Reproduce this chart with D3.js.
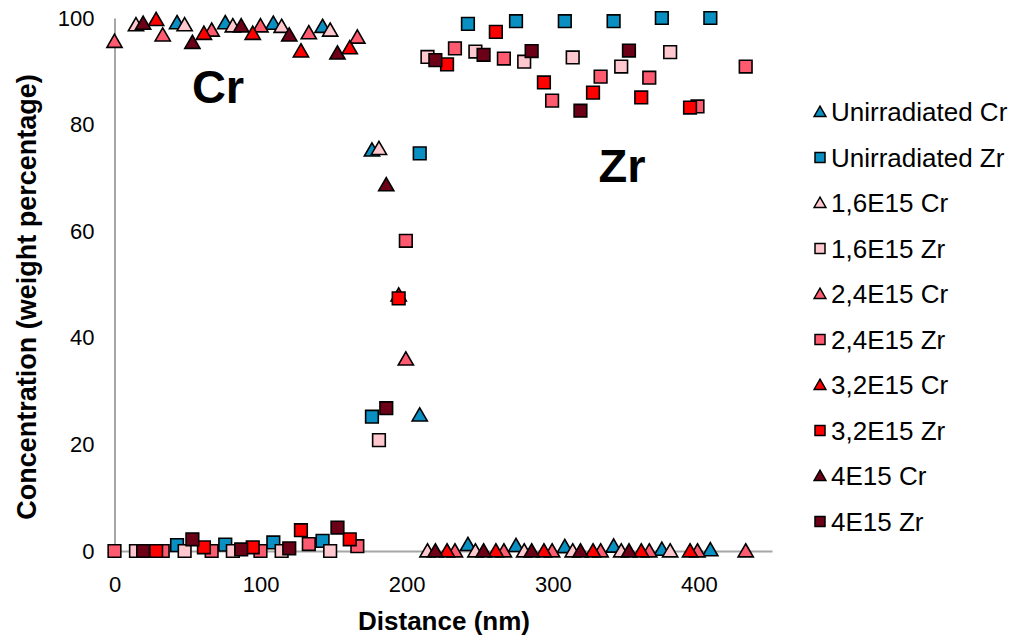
<!DOCTYPE html>
<html><head><meta charset="utf-8">
<script src="https://cdn.jsdelivr.net/npm/d3@7"></script>
<style>body{margin:0;background:#fff}svg{display:block}text{font-family:"Liberation Sans",Arial,sans-serif}</style>
</head><body><svg id="c" width="1012" height="636"></svg>
<script>
// Distances (nm) per sample
const xUnirr = [42.8,75.8,108.7,142.4,176.2,208.9,241.9,274.8,308.2,341.6,374.6,407.8];
const crUnirr = [99.1,99.1,99.0,98.4,75.2,25.5,1.2,1.0,0.8,0.9,0.3,0.2];
const zrUnirr = [1.1,1.2,1.6,1.9,25.2,74.6,98.9,99.4,99.4,99.4,100,100];

const x16 = [14.7,48,81,114.4,147.6,181,214.2,247,280.4,313.6,346.8,380.3];
const cr16 = [98.7,98.7,98.5,98.4,97.7,75.5,0,0,0,0,0,0];
const zr16 = [0,0,0,0,0,20.8,92.7,93.7,91.8,92.6,90.9,93.6];

const x24 = [0,33,66.5,99.9,133,166.2,199.4,233,266.5,299.5,332.7,366,399,432];
const cr24 = [95.6,96.8,97.7,98.5,97.2,96.4,36.0,0,0,0,0,0,0,0];
const zr24 = [0,0,0,0,1.3,0.9,58.2,94.3,92.4,84.5,89.0,88.8,83.4,90.9];

const x32 = [28.5,61.2,94.6,127.6,161,194.5,227.6,261,293.9,327.5,360.5,393.9];
const cr32 = [99.7,97.1,97.1,93.8,94.4,48.0,0,0,0,0,0,0];
const zr32 = [0,0.7,0.7,3.9,2.2,47.4,91.3,97.4,87.9,86.0,85.1,83.2];

const x40 = [19.6,53.3,86.7,119.6,152.6,186,219.6,252.6,285.5,318.9,352.1];
const cr40 = [99.0,95.4,98.5,96.8,93.4,68.7,0,0,0,0,0];
const zr40 = [0,2.2,0.3,0.5,4.4,26.8,92.1,93.1,93.8,82.6,93.9];

const xTicks = [0,100,200,300,400];
const yTicks = [0,20,40,60,80,100];

const series = [
  {name:"Unirradiated Cr", x:xUnirr, y:crUnirr, shape:"tri", color:"#0a8fc2"},
  {name:"Unirradiated Zr", x:xUnirr, y:zrUnirr, shape:"sq", color:"#0a8fc2"},
  {name:"1,6E15 Cr", x:x16, y:cr16, shape:"tri", color:"#ffc7ce"},
  {name:"1,6E15 Zr", x:x16, y:zr16, shape:"sq", color:"#ffc7ce"},
  {name:"2,4E15 Cr", x:x24, y:cr24, shape:"tri", color:"#ff5b70"},
  {name:"2,4E15 Zr", x:x24, y:zr24, shape:"sq", color:"#ff5b70"},
  {name:"3,2E15 Cr", x:x32, y:cr32, shape:"tri", color:"#ff0000"},
  {name:"3,2E15 Zr", x:x32, y:zr32, shape:"sq", color:"#ff0000"},
  {name:"4E15 Cr", x:x40, y:cr40, shape:"tri", color:"#6b0016"},
  {name:"4E15 Zr", x:x40, y:zr40, shape:"sq", color:"#6b0016"}
];

const svg = d3.select("#c");
const xs = d3.scaleLinear().domain([0,450]).range([114.5,772]);
const ys = d3.scaleLinear().domain([0,100]).range([551,18]);

// axes
const xAxis = svg.append("g").attr("transform",`translate(0,${ys(0)})`)
  .call(d3.axisBottom(xs).tickValues(xTicks).tickSize(0).tickPadding(25));
const yAxis = svg.append("g").attr("transform",`translate(${xs(0)},0)`)
  .call(d3.axisLeft(ys).tickValues(yTicks).tickSize(0).tickPadding(20));
[xAxis,yAxis].forEach(a=>{
  a.select(".domain").attr("stroke","#a6a6a6").attr("stroke-width",2);
  a.selectAll("text").attr("font-size",22).attr("fill","#000").attr("font-family","Liberation Sans, Arial, sans-serif");
});

const triPath = d3.symbol().type(d3.symbolTriangle).size(100)();
const sqPath = d3.symbol().type(d3.symbolSquare).size(160)();

series.forEach(s=>{
  const pts = s.x.map((v,i)=>[v,s.y[i]]);
  svg.append("g").selectAll("path").data(pts).join("path")
    .attr("d", s.shape==="tri"?triPath:sqPath)
    .attr("transform", d=>`translate(${xs(d[0])},${ys(d[1]) + (s.shape==="tri"?1.5:0)})`)
    .attr("fill", s.color).attr("stroke","#000").attr("stroke-width",1.6);
});

// annotations
svg.append("text").attr("x",218).attr("y",103).attr("text-anchor","middle")
  .attr("font-size",47).attr("font-weight","bold").text("Cr");
svg.append("text").attr("x",622).attr("y",182).attr("text-anchor","middle")
  .attr("font-size",47).attr("font-weight","bold").text("Zr");

// axis titles
svg.append("text").attr("x",444).attr("y",630).attr("text-anchor","middle")
  .attr("font-size",26).attr("font-weight","bold").text("Distance (nm)");
svg.append("text").attr("transform","translate(36,297) rotate(-90)").attr("text-anchor","middle")
  .attr("font-size",27).attr("font-weight","bold").text("Concentration (weight percentage)");

// legend
const lg = svg.append("g");
series.forEach((s,i)=>{
  const yy = 112 + i*45.5;
  lg.append("path").attr("d", s.shape==="tri"?d3.symbol().type(d3.symbolTriangle).size(60)():d3.symbol().type(d3.symbolSquare).size(100)())
    .attr("transform",`translate(820,${yy+(s.shape==="tri"?1:0)})`)
    .attr("fill",s.color).attr("stroke","#000").attr("stroke-width",1.5);
  lg.append("text").attr("x",831).attr("y",yy).attr("dy","0.35em")
    .attr("font-size",26).text(s.name);
});
</script></body></html>
